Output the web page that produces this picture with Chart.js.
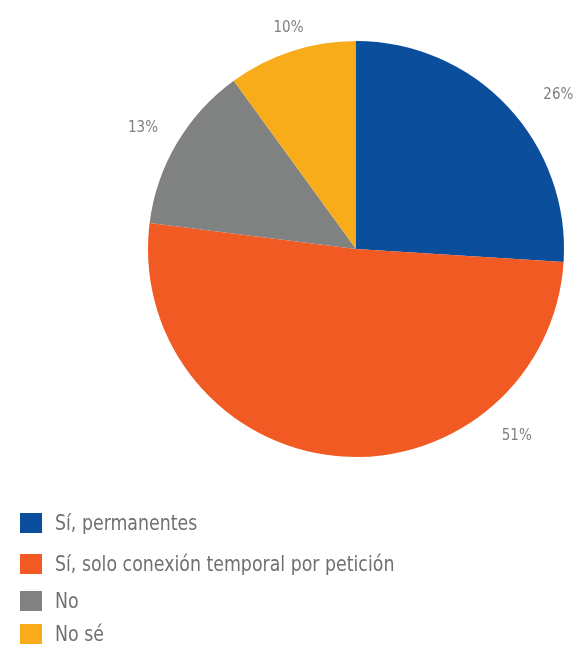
<!DOCTYPE html>
<html>
<head>
<meta charset="utf-8">
<script src="https://cdn.jsdelivr.net/npm/chart.js@4/dist/chart.umd.min.js"></script>
<style>
  html, body { margin: 0; padding: 0; background: #ffffff; }
  #wrap { position: relative; width: 576px; height: 648px; overflow: hidden; }
  #c { position: absolute; left: 0; top: 0; }
  #legend { position: absolute; left: 20px; top: 0; font-family: "Liberation Sans Narrow", "DejaVu Sans Condensed", sans-serif; font-size: 21px; color: #707070; }
  .item { position: absolute; left: 0; white-space: nowrap; }
  .sw { position: absolute; left: 0; width: 22px; height: 20px; }
  .tx { position: absolute; left: 35px; line-height: 24px; transform: scaleX(0.92); transform-origin: left center; }
</style>
</head>
<body>
<div id="wrap">
  <canvas id="c" width="576" height="648"></canvas>
  <div id="legend"></div>
</div>
<script>
const categories = ["Sí, permanentes", "Sí, solo conexión temporal por petición", "No", "No sé"];
const values = [26, 51, 13, 10];
const valueLabels = ["26%", "51%", "13%", "10%"];
const colors = ["#0b4f9c", "#f15a22", "#808181", "#f8ac1a"];

// label placement (style): angle shift in degrees from slice middle, distance beyond the rim
const labelAngleShift = [6, -46, -1, 1];
const labelGap = [46, 39, 37, 23];
// legend row centres (style)
const legendCentres = [523, 564, 601, 634];

const labelPlugin = {
  id: 'outerLabels',
  afterDatasetsDraw(chart) {
    const ctx = chart.ctx;
    const meta = chart.getDatasetMeta(0);
    ctx.save();
    ctx.font = '15px "Liberation Sans Narrow", "DejaVu Sans Condensed", sans-serif';
    ctx.fillStyle = '#7f7f7f';
    ctx.textAlign = 'center';
    ctx.textBaseline = 'middle';
    meta.data.forEach((arc, i) => {
      const p = arc.getProps(['x', 'y', 'startAngle', 'endAngle', 'outerRadius'], true);
      const mid = (p.startAngle + p.endAngle) / 2 + labelAngleShift[i] * Math.PI / 180;
      const r = p.outerRadius + labelGap[i];
      ctx.fillText(valueLabels[i], p.x + Math.cos(mid) * r, p.y + Math.sin(mid) * r);
    });
    ctx.restore();
  }
};

new Chart(document.getElementById('c'), {
  type: 'pie',
  data: {
    labels: categories,
    datasets: [{ data: values, backgroundColor: colors, borderWidth: 0 }]
  },
  options: {
    responsive: false,
    animation: false,
    layout: { padding: { left: 148, right: 12, top: 41, bottom: 191 } },
    plugins: { legend: { display: false }, tooltip: { enabled: false } }
  },
  plugins: [labelPlugin]
});

const lg = document.getElementById('legend');
categories.forEach((c, i) => {
  const it = document.createElement('div');
  it.className = 'item';
  it.style.top = legendCentres[i] + 'px';
  const sw = document.createElement('div');
  sw.className = 'sw';
  sw.style.top = '-10px';
  sw.style.background = colors[i];
  const tx = document.createElement('div');
  tx.className = 'tx';
  tx.style.top = '-12px';
  tx.textContent = c;
  it.appendChild(sw); it.appendChild(tx);
  lg.appendChild(it);
});
</script>
</body>
</html>
